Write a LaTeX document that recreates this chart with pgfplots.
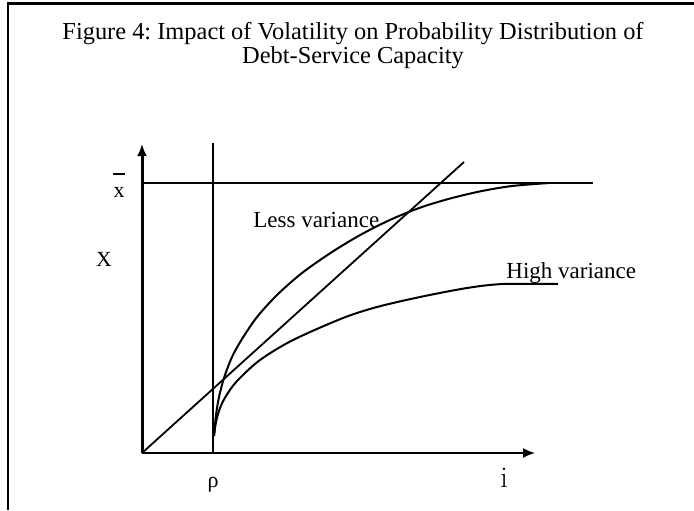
\documentclass[border=0pt]{standalone}
\usepackage{fontspec}
\setmainfont{Liberation Serif}
\usepackage{pgfplots}
\pgfplotsset{compat=1.18}
\usetikzlibrary{arrows.meta}
\frenchspacing
\begin{document}
\begin{tikzpicture}
\begin{axis}[name=ax,
  scale only axis, width=347pt, height=255pt,
  xmin=-1.42, xmax=5.52, ymin=-0.57, ymax=4.53,
  hide axis, clip=false]
% frame
\addplot[black, line width=1.3pt] coordinates {(-1.34,-0.57) (-1.34,4.495)};
\addplot[black, line width=1.1pt] coordinates {(-1.35,4.495) (5.52,4.495)};
% axes
\addplot[black, line width=1.5pt, -{Latex[length=6pt,width=5pt]}] coordinates {(0,0) (0,3.09)};
\addplot[black, line width=0.9pt, -{Latex[length=6pt,width=5pt]}] coordinates {(0,0) (3.93,0)};
% reference lines
\addplot[black, line width=0.8pt] coordinates {(0,2.70) (4.51,2.70)};
\addplot[black, line width=0.8pt] coordinates {(0.71,0) (0.71,3.10)};
\addplot[black, line width=0.9pt] coordinates {(0,0) (3.22,2.91)};
% less variance
\addplot[black, line width=1pt, smooth, tension=0.5] coordinates {
(0.72,0.17) (0.74,0.38) (0.77,0.56) (0.82,0.75) (0.90,0.96) (1.00,1.14) (1.15,1.36) (1.35,1.58) (1.60,1.80) (1.90,2.01) (2.20,2.19) (2.50,2.34) (2.80,2.46) (3.10,2.55) (3.40,2.62) (3.70,2.67) (4.07,2.70)};
% high variance
\addplot[black, line width=1pt, smooth, tension=0.5] coordinates {
(0.72,0.17) (0.74,0.31) (0.78,0.45) (0.84,0.57) (0.95,0.72) (1.18,0.93) (1.51,1.13) (2.01,1.35) (2.35,1.46) (2.78,1.56) (3.25,1.65) (3.61,1.69) (4.16,1.69)};
% texts
\node[anchor=base, font=\fontsize{12.2}{14}\selectfont] at (axis cs:2.11,4.14) {Figure 4: Impact of Volatility on Probability Distribution of};
\node[anchor=base, font=\fontsize{12.2}{14}\selectfont] at (axis cs:2.11,3.90) {Debt-Service Capacity};
\node[anchor=base west, inner sep=0pt, font=\fontsize{11.5}{13}\selectfont] at (axis cs:1.11,2.26) {Less variance};
\node[anchor=base west, inner sep=0pt, font=\fontsize{11.5}{13}\selectfont] at (axis cs:3.64,1.75) {High variance};
\node[anchor=base, inner sep=0pt, font=\fontsize{11}{13}\selectfont] at (axis cs:-0.23,2.56) {x};
\node[inner sep=0pt] at (axis cs:-0.235,2.79) {\rule{6pt}{0.6pt}};
\node[anchor=base, inner sep=0pt, font=\fontsize{10.8}{13}\selectfont] at (axis cs:-0.38,1.87) {X};
\node[inner sep=0pt, font=\fontsize{11}{13}\selectfont] at (axis cs:0.71,-0.32) {ρ};
\node[anchor=base, inner sep=0pt, font=\fontfamily{lmr}\fontsize{15}{17}\selectfont] at (axis cs:3.62,-0.34) {i};
\end{axis}
\pgfresetboundingbox
\path (ax.south west) rectangle (ax.north east);
\end{tikzpicture}
\end{document}
